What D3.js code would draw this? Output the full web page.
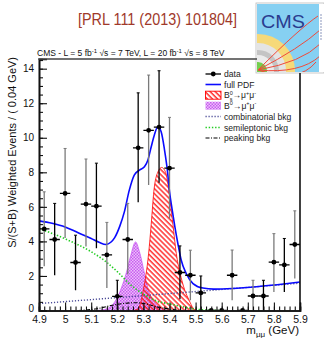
<!DOCTYPE html>
<html>
<head>
<meta charset="utf-8">
<title>Bs mumu</title>
<script src="https://d3js.org/d3.v7.min.js"></script>
<style>
  body { margin: 0; background: #fff; }
  text { font-family: "Liberation Sans", Arial, sans-serif; }
</style>
</head>
<body>
<div id="grafico"></div>
<script>
// ---- data ----
const binCentres = [4.92, 4.96, 5.00, 5.04, 5.08, 5.12, 5.16, 5.20, 5.24, 5.28, 5.32, 5.36, 5.40,
                    5.44, 5.48, 5.52, 5.56, 5.60, 5.64, 5.68, 5.72, 5.76, 5.80, 5.84, 5.88]
const binValues  = [4.72, 4.11, 6.78, 2.78, 6.16, 6.04, 3.22, 0.82, 4.11, 9.42, 10.43, 10.62, 8.24,
                    2.20, 2.04, 1.02, 0, 0, 2.04, 0, 0.84, 0.84, 2.80, 2.64, 3.82]
const binUpper   = [6.87, 6.20, 9.38, 4.36, 8.77, 8.53, 5.10, 1.75, 6.20, 12.60, 13.63, 13.88, 11.18,
                    3.74, 3.49, 2.00, 0, 0, 3.50, 0, 1.75, 1.75, 4.45, 4.17, 5.77]
const binLower   = [2.56, 2.04, 4.20, 1.17, 3.70, 3.60, 1.30, 0, 2.10, 6.26, 7.26, 7.40, 5.33,
                    0.65, 0.60, 0, 0, 0, 0.60, 0, 0, 0, 1.07, 1.07, 1.85]

const pdfMass = [4.90, 4.95, 5.00, 5.05, 5.10, 5.13, 5.157, 5.175, 5.19, 5.21, 5.227, 5.246, 5.265,
                 5.285, 5.304, 5.317, 5.33, 5.342, 5.355, 5.368, 5.381, 5.392, 5.40, 5.41, 5.42,
                 5.432, 5.445, 5.464, 5.49, 5.528, 5.57, 5.64, 5.75, 5.90]
const pdfValue = [5.19, 5.05, 4.84, 4.50, 4.17, 3.95, 3.82, 3.95, 4.22, 4.90, 5.71, 6.97, 7.84,
                  8.13, 8.32, 8.70, 9.48, 10.16, 10.64, 10.35, 9.29, 8.10, 6.90, 5.85, 4.90,
                  3.88, 2.91, 2.14, 1.56, 1.30, 1.24, 1.27, 1.40, 1.65]

const bsMass  = [5.26, 5.28, 5.30, 5.32, 5.33, 5.34, 5.355, 5.37, 5.385, 5.397, 5.413, 5.426,
                 5.44, 5.458, 5.475, 5.49, 5.50]
const bsValue = [0, 0.1, 1.2, 3.3, 5.0, 6.9, 8.0, 8.28, 8.0, 7.0, 5.0, 3.3, 2.2, 1.2, 0.6, 0.15, 0]

const bdMass  = [5.12, 5.16, 5.19, 5.21, 5.233, 5.25, 5.27, 5.285, 5.305, 5.32, 5.335, 5.35, 5.37, 5.40]
const bdValue = [0, 0.1, 0.5, 1.1, 2.1, 3.1, 3.97, 3.4, 2.1, 1.15, 0.65, 0.35, 0.1, 0]

const combMass  = [4.90, 5.40, 5.90]
const combValue = [0.40, 0.98, 1.58]

const semiMass  = [4.90, 5.00, 5.10, 5.15, 5.20, 5.25, 5.30, 5.35, 5.40, 5.45, 5.50, 5.55, 5.60]
const semiValue = [4.75, 4.15, 3.40, 2.90, 2.25, 1.50, 0.95, 0.55, 0.38, 0.22, 0.08, 0.02, 0]

const peakMass  = [5.05, 5.12, 5.18, 5.23, 5.27, 5.31, 5.35, 5.40, 5.45]
const peakValue = [0, 0.10, 0.30, 0.42, 0.45, 0.38, 0.22, 0.08, 0]

const xTicks = [4.9, 5, 5.1, 5.2, 5.3, 5.4, 5.5, 5.6, 5.7, 5.8, 5.9]
const yTicks = [0, 2, 4, 6, 8, 10, 12, 14]

const legendLabels = ['data', 'full PDF', 'Bs', 'Bd', 'combinatorial bkg', 'semileptonic bkg', 'peaking bkg']

// ---- layout ----
const largura = 324, altura = 338
const margem = { esquerda: 39, direita: 300, topo: 59, base: 310.5 }

const svg = d3.select('#grafico').append('svg')
  .attr('width', largura).attr('height', altura)

const defs = svg.append('defs')

// red hatch "\\\\"
const hatch = defs.append('pattern')
  .attr('id', 'hatchRed').attr('patternUnits', 'userSpaceOnUse')
  .attr('width', 3.6).attr('height', 3.6)
  .attr('patternTransform', 'rotate(-45)')
hatch.append('line').attr('x1', 1).attr('x2', 1).attr('y1', 0).attr('y2', 3.6)
  .attr('stroke', '#ff1010').attr('stroke-width', 1.3)

// magenta checker
const cheq = defs.append('pattern')
  .attr('id', 'cheqMag').attr('patternUnits', 'userSpaceOnUse')
  .attr('width', 3).attr('height', 3)
cheq.append('rect').attr('width', 3).attr('height', 3).attr('fill', '#ecc0fa')
cheq.append('rect').attr('width', 1.5).attr('height', 1.5).attr('fill', '#c85cf0')
cheq.append('rect').attr('x', 1.5).attr('y', 1.5).attr('width', 1.5).attr('height', 1.5).attr('fill', '#c85cf0')

defs.append('clipPath').attr('id', 'clipPlot')
  .append('rect').attr('x', margem.esquerda).attr('y', margem.topo)
  .attr('width', margem.direita - margem.esquerda).attr('height', margem.base - margem.topo)

const x = d3.scaleLinear().domain([4.9, 5.9]).range([margem.esquerda, margem.direita])
const y = d3.scaleLinear().domain([0, 14.56]).range([margem.base, margem.topo])

// ---- title ----
svg.append('text')
  .attr('x', 157.5).attr('y', 24.5)
  .attr('text-anchor', 'middle')
  .attr('font-size', 16)
  .attr('textLength', 159).attr('lengthAdjust', 'spacingAndGlyphs')
  .attr('fill', '#a0392a')
  .text('[PRL 111 (2013) 101804]')

// ---- CMS logo ----
const logo = svg.append('g')
defs.append('clipPath').attr('id', 'clipLogo')
  .append('rect').attr('x', 257).attr('y', 4).attr('width', 63).attr('height', 68)
logo.append('rect').attr('x', 256).attr('y', 3).attr('width', 68).attr('height', 70)
  .attr('fill', '#fff').attr('stroke', '#bbb').attr('stroke-width', 0.8)
const lg = logo.append('g').attr('clip-path', 'url(#clipLogo)')
lg.append('rect').attr('x', 257).attr('y', 4).attr('width', 63).attr('height', 68).attr('fill', '#86d0f2')
const cx0 = 258, cy0 = 71
const aneis = [[37, '#f6d979'], [28, '#e4e4e4'], [21, '#c4c4c4'], [16, '#ececec'], [9, '#74cf4e']]
aneis.forEach(([r, c]) => lg.append('circle').attr('cx', cx0).attr('cy', cy0).attr('r', r).attr('fill', c))
lg.append('text').attr('x', 261).attr('y', 27.5)
  .attr('font-family', '"Liberation Serif", "DejaVu Serif", serif')
  .attr('font-size', 19).attr('textLength', 44).attr('lengthAdjust', 'spacingAndGlyphs')
  .attr('fill', '#2a3c8f').text('CMS')
const trilhas = [[300, 8, 318, 16], [300, 28, 320, 30], [302, 42, 320, 44], [300, 54, 320, 56], [298, 64, 316, 62]]
trilhas.forEach(([qx, qy, ex, ey]) => {
  lg.append('path')
    .attr('d', `M${cx0},${cy0 - 1} Q${qx},${qy + 20} ${ex},${ey}`)
    .attr('fill', 'none').attr('stroke', '#f04a3a').attr('stroke-width', 1)
})
logo.append('rect').attr('x', 319).attr('y', 4).attr('width', 5).attr('height', 68).attr('fill', '#fff')
logo.append('line').attr('x1', 321).attr('x2', 321).attr('y1', 14).attr('y2', 40)
  .attr('stroke', '#9fa9c9').attr('stroke-width', 1.2).attr('stroke-dasharray', '2,1')

// ---- energy / lumi line ----
const lumi = svg.append('text').attr('x', 37).attr('y', 56).attr('font-size', 8.5).attr('fill', '#111')
lumi.append('tspan').text('CMS - L = 5 fb')
lumi.append('tspan').attr('dy', -3).attr('font-size', 6).text('-1')
lumi.append('tspan').attr('dy', 3).text(' \u221As = 7 TeV, L = 20 fb')
lumi.append('tspan').attr('dy', -3).attr('font-size', 6).text('-1')
lumi.append('tspan').attr('dy', 3).text(' \u221As = 8 TeV')

// ---- components ----
const plot = svg.append('g').attr('clip-path', 'url(#clipPlot)')

const area = d3.area().x(d => x(d[0])).y0(y(0)).y1(d => y(d[1])).curve(d3.curveMonotoneX)
const linha = d3.line().x(d => x(d[0])).y(d => y(d[1])).curve(d3.curveMonotoneX)

const bd = d3.zip(bdMass, bdValue)
const bs = d3.zip(bsMass, bsValue)

plot.append('path').datum(bd).attr('d', area)
  .attr('fill', 'url(#cheqMag)').attr('stroke', '#c040f0').attr('stroke-width', 0.6)
plot.append('path').datum(bs).attr('d', area)
  .attr('fill', 'url(#hatchRed)').attr('stroke', '#ff0000').attr('stroke-width', 0.8)

plot.append('path').datum(d3.zip(combMass, combValue)).attr('d', linha)
  .attr('fill', 'none').attr('stroke', '#4a4a96').attr('stroke-width', 1.4).attr('stroke-dasharray', '1.2,1.8')
plot.append('path').datum(d3.zip(semiMass, semiValue)).attr('d', linha)
  .attr('fill', 'none').attr('stroke', '#22cc22').attr('stroke-width', 1.6).attr('stroke-dasharray', '1.4,1.8')
plot.append('path').datum(d3.zip(peakMass, peakValue)).attr('d', linha)
  .attr('fill', 'none').attr('stroke', '#000').attr('stroke-width', 1.1).attr('stroke-dasharray', '4,1.5,1,1.5')
plot.append('path').datum(d3.zip(pdfMass, pdfValue)).attr('d', linha)
  .attr('fill', 'none').attr('stroke', '#0a0aff').attr('stroke-width', 1.6)

// ---- data points ----
const pontos = svg.append('g').attr('clip-path', 'url(#clipPlot)')
const meiaLargura = 0.02
binCentres.forEach((m, i) => {
  const g = pontos.append('g')
  const cor = i % 2 === 0 ? '#7a7a7a' : '#000'
  if (binUpper[i] > binValues[i]) {
    g.append('line').attr('x1', x(m)).attr('x2', x(m))
      .attr('y1', y(binUpper[i])).attr('y2', y(binLower[i]))
      .attr('stroke', cor).attr('stroke-width', 1.3)
    g.append('line').attr('x1', x(m) - 1.5).attr('x2', x(m) + 1.5)
      .attr('y1', y(binUpper[i])).attr('y2', y(binUpper[i]))
      .attr('stroke', cor).attr('stroke-width', 1)
  }
  g.append('line').attr('x1', x(m - meiaLargura)).attr('x2', x(m + meiaLargura))
    .attr('y1', y(binValues[i])).attr('y2', y(binValues[i]))
    .attr('stroke', '#000').attr('stroke-width', 1.3)
  g.append('circle').attr('cx', x(m)).attr('cy', y(binValues[i])).attr('r', 2.4).attr('fill', '#000')
})

// ---- axes ----
const eixoX = svg.append('g').attr('transform', `translate(0,${margem.base})`)
eixoX.call(d3.axisBottom(x).tickValues(xTicks).tickSize(-8).tickPadding(5.5)
  .tickFormat(d => d3.format('')(+d.toFixed(1))))
const eixoXmenor = svg.append('g').attr('transform', `translate(0,${margem.base})`)
eixoXmenor.call(d3.axisBottom(x).ticks(50).tickSize(-4).tickFormat(''))

const eixoY = svg.append('g').attr('transform', `translate(${margem.esquerda},0)`)
eixoY.call(d3.axisLeft(y).tickValues(yTicks).tickSize(-8).tickPadding(5))
const eixoYmenor = svg.append('g').attr('transform', `translate(${margem.esquerda},0)`)
eixoYmenor.call(d3.axisLeft(y).tickValues(d3.range(0, 14.6, 0.5)).tickSize(-4).tickFormat(''))

;[eixoX, eixoXmenor, eixoY, eixoYmenor].forEach(e => {
  e.selectAll('.domain').attr('stroke', '#111').attr('stroke-width', 1.6)
  e.selectAll('.tick line').attr('stroke', '#111').attr('stroke-width', 1.1)
  e.selectAll('text').attr('font-size', 10.5).attr('fill', '#111')
    .attr('font-family', '"Liberation Sans", Arial, sans-serif')
})
eixoY.selectAll('text').attr('font-size', 10)
eixoY.selectAll('.tick').filter(d => d === 0).select('text').attr('dy', '0.1em')

// frame top and right
svg.append('line').attr('x1', margem.esquerda - 0.8).attr('x2', 257)
  .attr('y1', margem.topo).attr('y2', margem.topo)
  .attr('stroke', '#444').attr('stroke-width', 1.6)
svg.append('line').attr('x1', margem.direita).attr('x2', margem.direita)
  .attr('y1', 73).attr('y2', margem.base + 0.8)
  .attr('stroke', '#111').attr('stroke-width', 1.6)

// axis titles
const tituloX = svg.append('text').attr('x', 299).attr('y', 334)
  .attr('text-anchor', 'end').attr('font-size', 11.5).attr('fill', '#111')
tituloX.append('tspan').text('m')
tituloX.append('tspan').attr('dy', 3).attr('font-size', 8).text('\u03BC\u03BC')
tituloX.append('tspan').attr('dy', -3).text(' (GeV)')

svg.append('text')
  .attr('transform', 'translate(16,57) rotate(-90)')
  .attr('text-anchor', 'end').attr('font-size', 11).attr('fill', '#111')
  .text('S/(S+B) Weighted Events / ( 0.04 GeV)')

// ---- legend ----
const legenda = svg.append('g')
const linhaY = [74, 84.5, 95.2, 105.7, 116.5, 127.5, 138]
const lx0 = 205.5, lx1 = 221
legendLabels.forEach((rot, i) => {
  const ly = linhaY[i]
  const item = legenda.append('g')
  if (rot === 'data') {
    item.append('line').attr('x1', lx0).attr('x2', lx1).attr('y1', ly).attr('y2', ly)
      .attr('stroke', '#000').attr('stroke-width', 1.3)
    item.append('circle').attr('cx', (lx0 + lx1) / 2).attr('cy', ly).attr('r', 2.4)
  } else if (rot === 'full PDF') {
    item.append('line').attr('x1', lx0).attr('x2', lx1).attr('y1', ly).attr('y2', ly)
      .attr('stroke', '#0a0aff').attr('stroke-width', 1.6)
  } else if (rot === 'Bs') {
    item.append('rect').attr('x', lx0).attr('y', ly - 4).attr('width', lx1 - lx0).attr('height', 8)
      .attr('fill', 'url(#hatchRed)').attr('stroke', '#ff0000').attr('stroke-width', 0.9)
  } else if (rot === 'Bd') {
    item.append('rect').attr('x', lx0).attr('y', ly - 4).attr('width', lx1 - lx0).attr('height', 8)
      .attr('fill', 'url(#cheqMag)')
  } else {
    const estilo = {
      'combinatorial bkg': ['#4a4a96', '1.2,1.8', 1.4],
      'semileptonic bkg': ['#22cc22', '1.4,1.8', 1.6],
      'peaking bkg': ['#000', '4,1.5,1,1.5', 1.1]
    }[rot]
    item.append('line').attr('x1', lx0).attr('x2', lx1).attr('y1', ly).attr('y2', ly)
      .attr('stroke', estilo[0]).attr('stroke-dasharray', estilo[1]).attr('stroke-width', estilo[2])
  }
  const t = item.append('text').attr('x', 224).attr('y', ly + 3.2).attr('font-size', 8.6).attr('fill', '#222')
  if (rot === 'Bs' || rot === 'Bd') {
    t.append('tspan').text('B')
    if (rot === 'Bs') {
      t.append('tspan').attr('font-size', 5.5).attr('dy', -3.5).text('0')
      t.append('tspan').attr('font-size', 5.5).attr('dx', -3.1).attr('dy', 6).text('s')
      t.append('tspan').attr('dy', -2.5).text('\u2192\u03BC')
    } else {
      t.append('tspan').attr('font-size', 5.5).attr('dy', -3.5).text('0')
      t.append('tspan').attr('dy', 3.5).text('\u2192\u03BC')
    }
    t.append('tspan').attr('font-size', 5.5).attr('dy', -3.5).text('+')
    t.append('tspan').attr('dy', 3.5).text('\u03BC')
    t.append('tspan').attr('font-size', 5.5).attr('dy', -3.5).text('-')
  } else {
    t.text(rot)
  }
})
</script>
</body>
</html>
